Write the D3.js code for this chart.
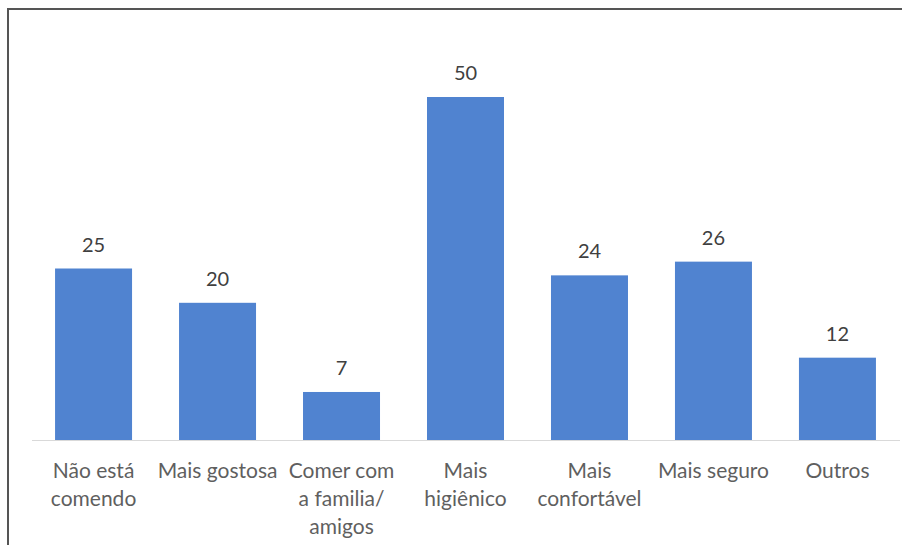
<!DOCTYPE html>
<html><head><meta charset="utf-8">
<script src="https://cdn.jsdelivr.net/npm/d3@7"></script>
<style>html,body{margin:0;padding:0;background:#fff;}svg{display:block;}</style>
</head><body>
<svg id="chart" width="902" height="545"></svg>
<script>
const categories = ["Não está comendo", "Mais gostosa", "Comer com a familia/ amigos", "Mais higiênico", "Mais confortável", "Mais seguro", "Outros"];
const categoryLines = [["Não está", "comendo"], ["Mais gostosa"], ["Comer com", "a familia/", "amigos"], ["Mais", "higiênico"], ["Mais", "confortável"], ["Mais seguro"], ["Outros"]];
const values = [25, 20, 7, 50, 24, 26, 12];

const svg = d3.select("#chart");
const W = 902, H = 545;
const font = "Lato, 'Open Sans', sans-serif";

// frame
svg.append("path").attr("d", `M8,${H} L8,9 L${W},9`).attr("fill", "none").attr("stroke", "#555").attr("stroke-width", 2);

const x = d3.scaleBand().domain(categories).range([31.5, 899.5]).paddingInner(0.379).paddingOuter(0.19);
const y = d3.scaleLinear().domain([0, 50]).range([440, 97]);

svg.append("line").attr("x1", 32).attr("x2", 900).attr("y1", y(0) + 0.5).attr("y2", y(0) + 0.5)
  .attr("stroke", "#d9d9d9").attr("stroke-width", 1);

svg.selectAll("rect.bar").data(values).join("rect").attr("class", "bar")
  .attr("x", (d, i) => x(categories[i]))
  .attr("width", x.bandwidth())
  .attr("y", d => y(d))
  .attr("height", d => y(0) - y(d))
  .attr("fill", "#5083d0");

svg.selectAll("text.val").data(values).join("text").attr("class", "val")
  .attr("x", (d, i) => x(categories[i]) + x.bandwidth() / 2)
  .attr("y", d => y(d) - 17)
  .attr("text-anchor", "middle")
  .attr("font-family", font).attr("font-size", 20).attr("fill", "#404040")
  .text(d => d);

const lbl = svg.selectAll("text.cat").data(categories).join("text").attr("class", "cat")
  .attr("x", d => x(d) + x.bandwidth() / 2)
  .attr("y", 478)
  .attr("text-anchor", "middle")
  .attr("font-family", font).attr("font-size", 21).attr("fill", "#5f5f5f");
lbl.each(function (d, i) {
  const t = d3.select(this);
  categoryLines[i].forEach((ln, j) => {
    t.append("tspan").attr("x", x(d) + x.bandwidth() / 2).attr("dy", j === 0 ? 0 : 28).text(ln);
  });
});
</script>
</body></html>
